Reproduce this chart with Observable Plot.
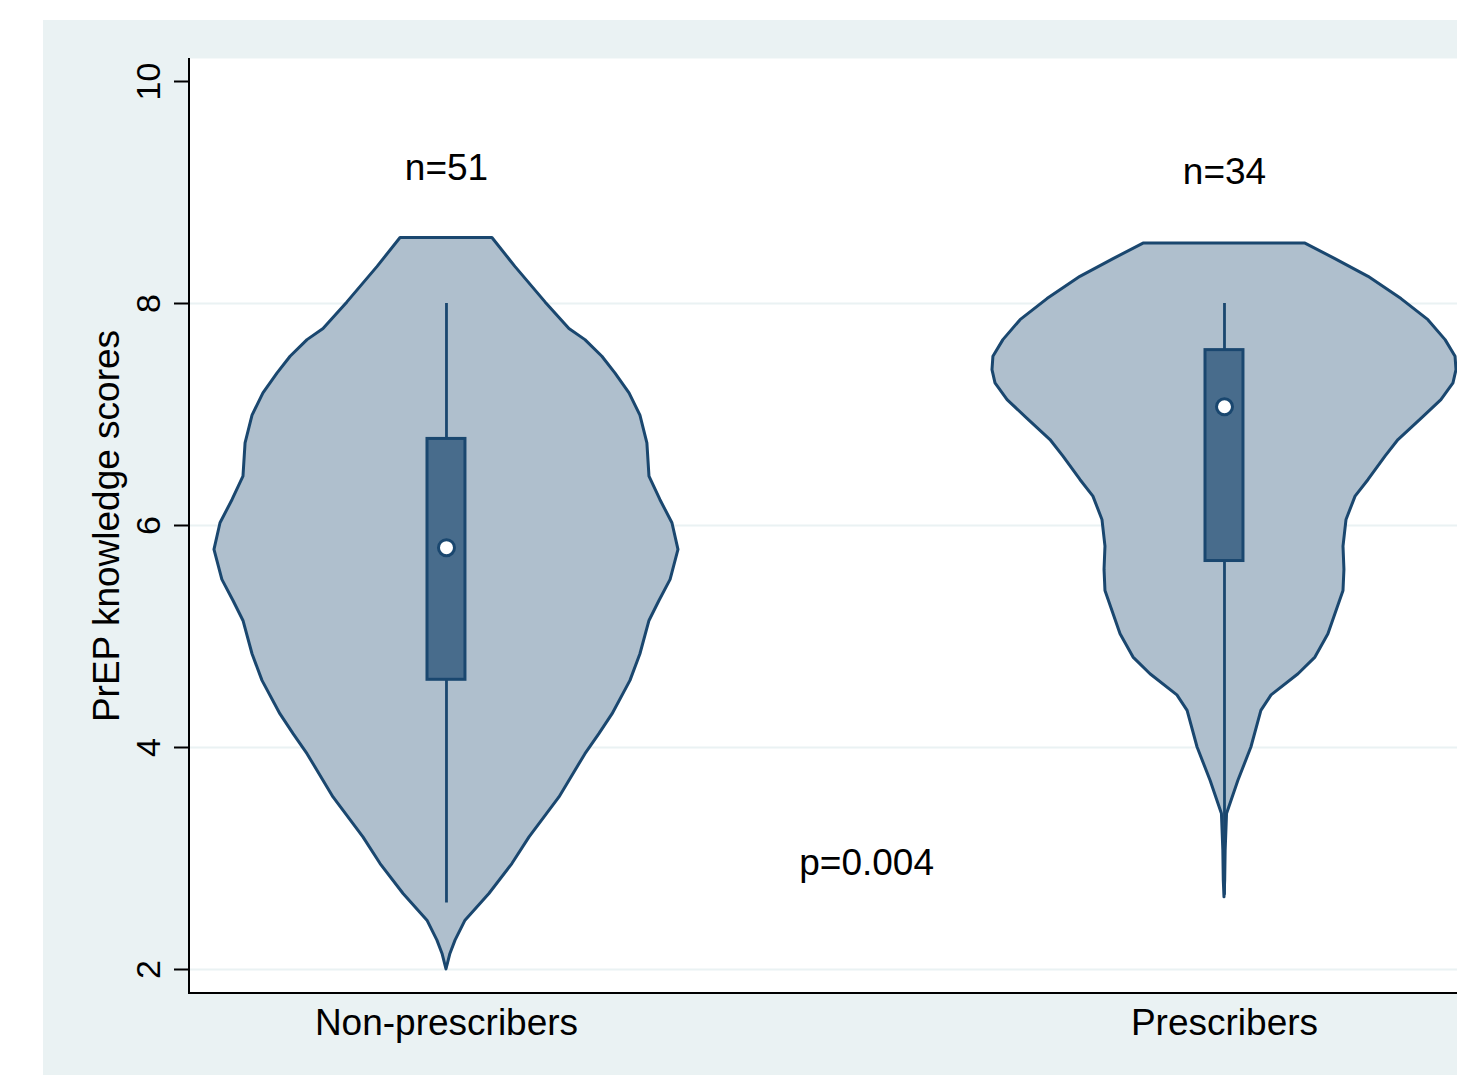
<!DOCTYPE html>
<html><head><meta charset="utf-8">
<script src="https://cdn.jsdelivr.net/npm/d3@7"></script>
<script src="https://cdn.jsdelivr.net/npm/@observablehq/plot@0.6"></script>
<style>
html,body{margin:0;padding:0;background:#fff;overflow:hidden;width:1457px;height:1075px}
#panel{position:absolute;left:43px;top:20px;width:1414px;height:1055px;background:#EAF2F3}
#chart{position:absolute;left:0;top:0}
</style></head><body><div id="panel"></div><div id="chart"></div>
<script>
// ---- data ----
const groups = ["Non-prescribers", "Prescribers"];
const groupPos = [1, 2];
const nLabels = ["n=51", "n=34"];
const nLabelY = [9.22, 9.18];
const pLabel = "p=0.004";
const pLabelX = 1.54;
const pLabelY = 2.96;

// violin outlines: score and relative density (half-width, max = 1)
const nonScores  = [8.59, 8.33, 8.01, 7.77, 7.67, 7.52, 7.37, 7.19, 6.99, 6.74, 6.44, 6.23, 6.02, 5.78, 5.51, 5.32, 5.14, 4.84, 4.60, 4.30, 4.12, 3.94, 3.55, 3.19, 2.95, 2.68, 2.44, 2.26, 2.14, 2.00];
const nonDensity = [0.198, 0.297, 0.427, 0.530, 0.599, 0.672, 0.728, 0.789, 0.836, 0.866, 0.875, 0.922, 0.974, 1.000, 0.966, 0.918, 0.875, 0.836, 0.793, 0.716, 0.659, 0.599, 0.487, 0.358, 0.284, 0.185, 0.082, 0.039, 0.017, 0];
const preScores  = [8.54, 8.40, 8.24, 8.04, 7.85, 7.67, 7.52, 7.40, 7.28, 7.13, 6.96, 6.77, 6.62, 6.41, 6.26, 6.05, 5.81, 5.60, 5.41, 5.02, 4.81, 4.66, 4.47, 4.33, 4.00, 3.70, 3.40, 3.07, 2.80, 2.65];
const preDensity = [0.349, 0.478, 0.621, 0.763, 0.879, 0.953, 0.996, 1.000, 0.987, 0.935, 0.849, 0.750, 0.694, 0.621, 0.565, 0.526, 0.513, 0.517, 0.513, 0.448, 0.392, 0.319, 0.203, 0.159, 0.116, 0.060, 0.011, 0.005, 0.003, 0];

// box plot statistics
const q1 = [4.61, 5.68];
const medians = [5.80, 7.07];
const q3 = [6.78, 7.58];
const whiskLo = [2.60, 2.67];
const whiskHi = [8.00, 8.00];

const yTicks = [2, 4, 6, 8, 10];
const yGrid = [2, 4, 6, 8];

// ---- styling ----
const NAVY = "#1A476F";
const VIOLIN_FILL = "#AFBFCD";
const BOX_FILL = "#486C8C";
const GRID = "#EAF2F3";
const FONT = "Liberation Sans, Arial, Helvetica, sans-serif";
const FS = 37;
const TICK_FS = 34;
const violinScale = 0.2982; // x-units per unit relative density
const boxHalf = 0.0244;

// ---- build tables ----
const violinRows = [];
[[nonScores, nonDensity], [preScores, preDensity]].forEach(([s, d], gi) => {
  s.forEach((v, i) => violinRows.push({
    group: groups[gi], score: v,
    x1: groupPos[gi] - d[i] * violinScale,
    x2: groupPos[gi] + d[i] * violinScale
  }));
});
const boxRows = groups.map((g, i) => ({
  group: g, pos: groupPos[i], q1: q1[i], q3: q3[i], median: medians[i],
  lo: whiskLo[i], hi: whiskHi[i],
  x1: groupPos[i] - boxHalf, x2: groupPos[i] + boxHalf
}));
const annoRows = [
  ...nLabels.map((t, i) => ({text: t, x: groupPos[i], y: nLabelY[i]})),
  {text: pLabel, x: pLabelX, y: pLabelY}
];

const chart = Plot.plot({
  width: 1457,
  height: 1075,
  marginLeft: 189,
  marginRight: 0,
  marginTop: 58,
  marginBottom: 82,
  style: {background: "transparent", fontFamily: FONT, overflow: "hidden", color: "black"},
  x: {domain: [0.6697, 2.2995], axis: null},
  y: {domain: [1.7838, 10.2072], axis: null},
  marks: [
    Plot.frame({fill: "white", stroke: "none"}),
    Plot.ruleY(yGrid, {stroke: GRID, strokeWidth: 2}),
    Plot.areaX(violinRows, {y: "score", x1: "x1", x2: "x2", z: "group", fill: VIOLIN_FILL, stroke: NAVY, strokeWidth: 3, strokeLinejoin: "round", curve: "linear"}),
    Plot.ruleX(boxRows, {x: "pos", y1: "lo", y2: "hi", stroke: NAVY, strokeWidth: 2.8}),
    Plot.rect(boxRows, {x1: "x1", x2: "x2", y1: "q1", y2: "q3", fill: BOX_FILL, stroke: NAVY, strokeWidth: 3}),
    Plot.dot(boxRows, {x: "pos", y: "median", r: 8, fill: "white", stroke: NAVY, strokeWidth: 3}),
    Plot.text(annoRows, {x: "x", y: "y", text: "text", fontSize: FS, fill: "black"}),
    Plot.axisY({ticks: yTicks, tickSize: 15, tickPadding: 15, tickRotate: -90, fontSize: TICK_FS, label: null, strokeWidth: 2, tickFormat: d => String(d)}),
    Plot.axisX({ticks: groupPos, tickSize: 0, tickPadding: 15, fontSize: FS, label: null, tickFormat: d => groups[groupPos.indexOf(d)]}),
    Plot.text(["PrEP knowledge scores"], {frameAnchor: "left", rotate: -90, dx: -71, textAnchor: "middle", lineAnchor: "bottom", fontSize: FS, fill: "black"}),
    (index, scales, values, dims) => {
      const g = d3.create("svg:g");
      const l = dims.marginLeft, t = dims.marginTop;
      const b = dims.height - dims.marginBottom, r = dims.width - dims.marginRight;
      g.append("path").attr("d", `M${l},${t}V${b}H${r}`)
        .attr("fill", "none").attr("stroke", "black").attr("stroke-width", 2);
      return g.node();
    }
  ]
});
document.getElementById("chart").appendChild(chart);
</script></body></html>
